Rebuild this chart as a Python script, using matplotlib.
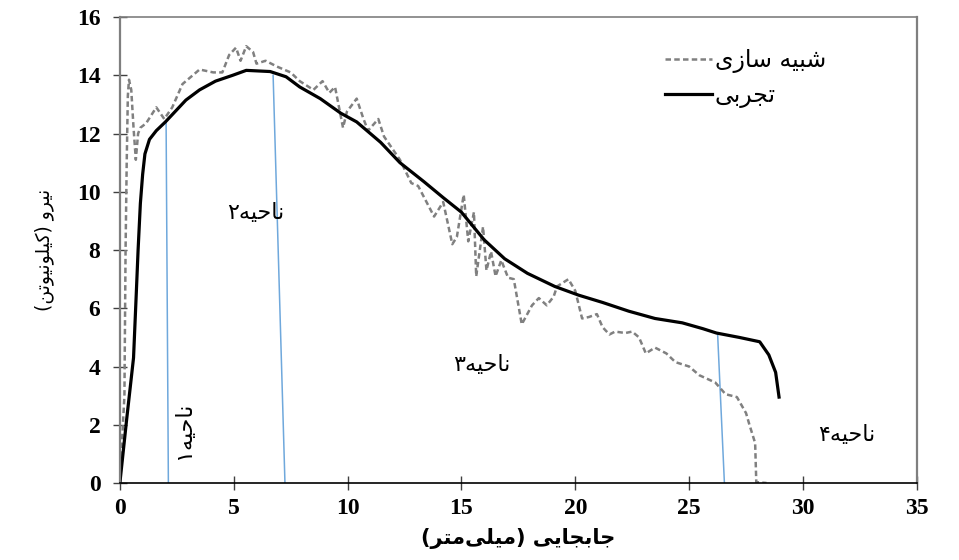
import matplotlib
matplotlib.use("Agg")
import matplotlib.pyplot as plt

# --- data ---
sim_x = [0, 0.2, 0.25, 0.3, 0.35, 0.4, 0.5, 0.6, 0.7, 0.8, 0.9, 1.15, 1.6, 1.95, 2.3, 2.75,
         3.5, 4.1, 4.5, 4.8, 5.1, 5.3, 5.55, 5.85, 6.0, 6.4, 6.9, 7.5, 7.9, 8.5, 8.9, 9.2,
         9.45, 9.8, 9.97, 10.4, 10.7, 10.9, 11.35, 11.6, 12.3, 12.8, 13.1, 13.8, 14.2, 14.6,
         14.8, 15.1, 15.3, 15.55, 15.65, 15.95, 16.1, 16.3, 16.5, 16.75, 17.05, 17.3, 17.65,
         18.1, 18.4, 18.75, 19.05, 19.2, 19.7, 20.0, 20.3, 20.6, 20.95, 21.2, 21.5, 21.75,
         22.2, 22.5, 22.8, 23.1, 23.5, 24.0, 24.4, 25.0, 25.45, 26.15, 26.6, 27.1, 27.5,
         27.65, 27.9, 27.95, 28.4]
sim_y = [0, 3, 8, 11, 13.3, 13.85, 13.5, 12.2, 11.1, 12.0, 12.2, 12.35, 12.9, 12.5, 12.9, 13.7,
         14.2, 14.1, 14.1, 14.7, 14.95, 14.5, 15.0, 14.8, 14.4, 14.5, 14.3, 14.1, 13.8, 13.5, 13.8, 13.4,
         13.6, 12.2, 12.75, 13.2, 12.5, 12.1, 12.5, 11.9, 11.1, 10.3, 10.2, 9.15, 9.65, 8.2,
         8.45, 9.9, 8.3, 9.3, 7.1, 8.8, 7.3, 7.95, 7.1, 7.65, 7.05, 7.0, 5.45,
         6.1, 6.35, 6.1, 6.4, 6.75, 7.0, 6.6, 5.65, 5.7, 5.8, 5.35, 5.1, 5.2,
         5.15, 5.2, 5.0, 4.45, 4.65, 4.45, 4.15, 4.0, 3.7, 3.45, 3.05, 2.95, 2.4,
         2.0, 1.37, 0.03, 0]

exp_x = [0, 0.3, 0.6, 0.72, 0.8, 0.9, 1.0, 1.1, 1.3, 1.6, 2.0, 2.9, 3.5, 4.2, 4.95, 5.55,
         6.6, 7.3, 7.9, 8.8, 9.7, 10.4, 11.45, 12.3, 13.35, 14.2, 15.0, 16.0, 16.9, 17.9,
         19.1, 20.15, 21.2, 22.35, 23.5, 24.7, 25.6, 26.2, 27.2, 28.1, 28.5, 28.8, 28.95]
exp_y = [0, 2.2, 4.3, 6.5, 8.0, 9.6, 10.6, 11.3, 11.8, 12.1, 12.4, 13.15, 13.5, 13.8, 14.0, 14.17,
         14.13, 13.95, 13.6, 13.2, 12.7, 12.4, 11.7, 11.0, 10.35, 9.8, 9.3, 8.35, 7.7, 7.2,
         6.75, 6.45, 6.2, 5.9, 5.65, 5.5, 5.3, 5.15, 5.0, 4.85, 4.4, 3.8, 2.95]

# region boundaries (top point, bottom point)
bound_top_x = [2.03, 6.73, 26.25]
bound_top_y = [12.4, 14.0, 5.15]
bound_bot_x = [2.13, 7.25, 26.55]

region_labels = ["ناحیه۱", "ناحیه۲", "ناحیه۳", "ناحیه۴"]
region_x = [2.83, 5.97, 15.9, 31.9]
region_y = [1.82, 9.28, 4.05, 1.65]

sim_label = "شبیه سازی"
exp_label = "تجربی"
xlabel = "جابجایی (میلی\u200cمتر)"
ylabel = "نیرو (کیلونیوتن)"

# --- simple persian shaping (matplotlib has no bidi/shaping) ---
FORMS = {  # isolated, final, initial, medial
    "ب": "\uFE8F\uFE90\uFE91\uFE92", "ت": "\uFE95\uFE96\uFE97\uFE98",
    "ج": "\uFE9D\uFE9E\uFE9F\uFEA0", "ح": "\uFEA1\uFEA2\uFEA3\uFEA4",
    "س": "\uFEB1\uFEB2\uFEB3\uFEB4", "ش": "\uFEB5\uFEB6\uFEB7\uFEB8",
    "ل": "\uFEDD\uFEDE\uFEDF\uFEE0", "م": "\uFEE1\uFEE2\uFEE3\uFEE4",
    "ن": "\uFEE5\uFEE6\uFEE7\uFEE8", "ه": "\uFEE9\uFEEA\uFEEB\uFEEC",
    "ی": "\uFBFC\uFBFD\uFBFE\uFBFF", "ک": "\uFB8E\uFB8F\uFB90\uFB91",
    "ا": "\uFE8D\uFE8E", "ر": "\uFEAD\uFEAE", "ز": "\uFEAF\uFEB0", "و": "\uFEED\uFEEE",
}
MIRROR = {"(": ")", ")": "("}


def fa(s):
    out = []
    for i, c in enumerate(s):
        if c not in FORMS:
            if c != "\u200c":
                out.append(MIRROR.get(c, c))
            continue
        f = FORMS[c]
        prev = s[i - 1] if i > 0 else ""
        nxt = s[i + 1] if i + 1 < len(s) else ""
        cp = prev in FORMS and len(FORMS[prev]) == 4
        cn = len(f) == 4 and nxt in FORMS
        if cp and cn:
            out.append(f[3])
        elif cp:
            out.append(f[1])
        elif cn:
            out.append(f[2])
        else:
            out.append(f[0])
    return "".join(out[::-1])


plt.rcParams["font.family"] = ["DejaVu Sans"]

fig = plt.figure(figsize=(9.59, 5.6), dpi=100)
ax = fig.add_axes([0.125, 0.1375, 0.831, 0.832])

ax.plot(sim_x, sim_y, color="#808080", lw=1.8, dashes=(2.2, 1.3), label=fa(sim_label))
ax.plot(exp_x, exp_y, color="black", lw=2.3, label=fa(exp_label))

for tx, ty, bx in zip(bound_top_x, bound_top_y, bound_bot_x):
    ax.plot([tx, bx], [ty, 0], color="#6fa8dc", lw=1.1, zorder=1)

for i, (lab, lx, ly) in enumerate(zip(region_labels, region_x, region_y)):
    ax.text(lx, ly, fa(lab), fontsize=16, ha="center", va="center",
            rotation=90 if i == 0 else 0)

ax.set_xlim(0, 35)
ax.set_ylim(0, 16)
ax.set_xticks(range(0, 36, 5))
ax.set_yticks(range(0, 17, 2))

for lab in ax.get_xticklabels() + ax.get_yticklabels():
    lab.set_fontfamily("Liberation Serif")
    lab.set_fontweight("bold")
    lab.set_fontsize(17)

ax.tick_params(axis="both", direction="inout", length=10, width=1, color="#404040")
ax.tick_params(axis="x", pad=6)
ax.tick_params(axis="y", pad=9)

for side in ["left", "right", "top"]:
    ax.spines[side].set_color("#7f7f7f")
    ax.spines[side].set_linewidth(1.6)
ax.spines["top"].set_linewidth(1.2)
ax.spines["bottom"].set_color("black")
ax.spines["bottom"].set_linewidth(1.2)

ax.set_xlabel(fa(xlabel), fontsize=15, fontweight="bold", labelpad=6)
ax.set_ylabel(fa(ylabel), fontsize=13.5, labelpad=16)

ax.legend(loc="upper left", bbox_to_anchor=(0.684, 0.933), frameon=False, fontsize=17,
          handlelength=2.0, handletextpad=0.1, labelspacing=0.42, borderpad=0,
          borderaxespad=0)

fig.savefig("out.png", dpi=100)
